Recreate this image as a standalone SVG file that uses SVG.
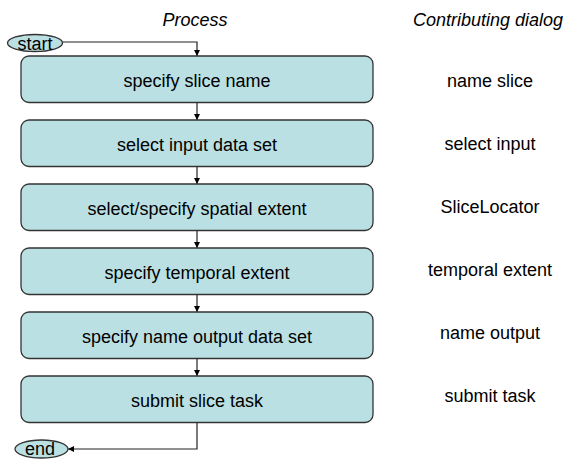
<svg xmlns="http://www.w3.org/2000/svg" width="563" height="459" viewBox="0 0 563 459">
<defs>
<style>
.t{font-family:"Liberation Sans",Arial,sans-serif;font-size:18px;fill:#000;text-anchor:middle}
.i{font-style:italic}
.box{fill:#BBE0E3;stroke:#333;stroke-width:1.3}
.c{fill:none;stroke:#222;stroke-width:1.2}
</style>
<marker id="ah" viewBox="0 0 10 10" refX="10" refY="5" markerWidth="6" markerHeight="6" markerUnits="userSpaceOnUse" orient="auto">
<path d="M0,0 L10,5 L0,10 z" fill="#000"/>
</marker>
</defs>
<rect width="563" height="459" fill="#fff"/>
<text class="t i" x="195" y="26">Process</text>
<text class="t i" x="488" y="26">Contributing dialog</text>
<g id="connectors">
<path class="c" d="M62,42 H197 V56" marker-end="url(#ah)"/>
<path class="c" d="M197,102.5 V120" marker-end="url(#ah)"/>
<path class="c" d="M197,166.5 V184" marker-end="url(#ah)"/>
<path class="c" d="M197,230.5 V248" marker-end="url(#ah)"/>
<path class="c" d="M197,294.5 V312" marker-end="url(#ah)"/>
<path class="c" d="M197,358.5 V376" marker-end="url(#ah)"/>
<path class="c" d="M197,422.5 V449 H68" marker-end="url(#ah)"/>
</g>
<g id="start">
<ellipse class="box" cx="35" cy="43" rx="27.5" ry="8.5"/>
<text class="t" x="35" y="49.5">start</text>
</g>
<g id="n1">
<rect class="box" x="21" y="56" width="352" height="46.5" rx="8"/>
<text class="t" x="197" y="86.5">specify slice name</text>
</g>
<g id="n2">
<rect class="box" x="21" y="120" width="352" height="46.5" rx="8"/>
<text class="t" x="197" y="150.5">select input data set</text>
</g>
<g id="n3">
<rect class="box" x="21" y="184" width="352" height="46.5" rx="8"/>
<text class="t" x="197" y="214.5">select/specify spatial extent</text>
</g>
<g id="n4">
<rect class="box" x="21" y="248" width="352" height="46.5" rx="8"/>
<text class="t" x="197" y="278.5">specify temporal extent</text>
</g>
<g id="n5">
<rect class="box" x="21" y="312" width="352" height="46.5" rx="8"/>
<text class="t" x="197" y="342.5">specify name output data set</text>
</g>
<g id="n6">
<rect class="box" x="21" y="376" width="352" height="46.5" rx="8"/>
<text class="t" x="197" y="406.5">submit slice task</text>
</g>
<g id="end">
<ellipse class="box" cx="41.5" cy="449" rx="26.5" ry="9"/>
<text class="t" x="40" y="455">end</text>
</g>
<g id="dialogs">
<text class="t" x="490" y="87">name slice</text>
<text class="t" x="490" y="150">select input</text>
<text class="t" x="490" y="213">SliceLocator</text>
<text class="t" x="490" y="276">temporal extent</text>
<text class="t" x="490" y="339">name output</text>
<text class="t" x="490" y="402">submit task</text>
</g>
</svg>
